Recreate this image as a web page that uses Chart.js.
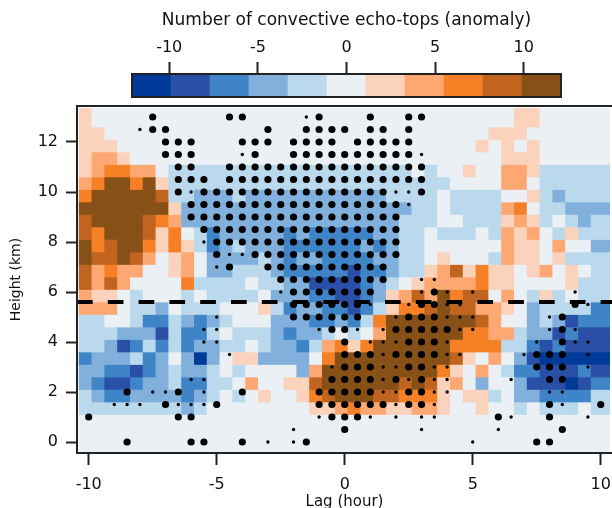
<!DOCTYPE html>
<html>
<head>
<meta charset="utf-8">
<title>Number of convective echo-tops (anomaly)</title>
<script src="https://cdn.jsdelivr.net/npm/chart.js@4/dist/chart.umd.min.js"></script>
<style>
    html, body { margin: 0; padding: 0; background: #fff; overflow: hidden; }
    #wrap { position: relative; width: 612px; height: 508px; }
    canvas { position: absolute; left: 0; top: 0; }
</style>
</head>
<body>
<div id="wrap">
    <canvas id="main-chart" width="612" height="508"></canvas>
    <canvas id="colorbar-chart" width="612" height="105"></canvas>
</div>
<script>
// Colour classes of the anomaly scale, dark blue to dark brown
var classColors = ['#003a99', '#2a4fa6', '#3f84c6', '#82b0dc', '#bbd9ec', '#eaf0f3', '#fbd2bb', '#fda873', '#f58026', '#c1641f', '#875016'];
var classCenters = [-11, -8.8, -6.6, -4.4, -2.2, 0, 2.2, 4.4, 6.6, 8.8, 11];
var classTicks = [-10, -5, 0, 5, 10];

var lagTicks = [-10, -5, 0, 5, 10];
var heightTicks = [0, 2, 4, 6, 8, 10, 12];

// Height of the dashed line (km)
var dashedHeight = 5.6;

// Cells: one string per height row, top row first, one character per lag
// column, holding the index in classColors (A = 10). Spaces are only for reading
var cellRows = [
    '6555555555 5555555555 5555555555 5555665555 55',
    '6555555555 5555555555 5555555555 5555665555 55',
    '6655555555 5555555555 5555555555 5566655555 55',
    '6665555555 5555555555 5555555555 5656565555 55',
    '6776555555 5555555555 5555555555 5556665555 55',
    '6788775444 4444444444 4444445455 6557764444 44',
    '78AA8A6444 4444444444 4444444445 5557754444 44',
    '8AAAAA9443 3343333333 3333444454 4445564344 44',
    'AAAAAAA633 3333333333 3333334454 4447854433 33',
    '9AAAA98733 3333333333 3333344455 4446764543 44',
    '98AAA96854 2333332322 2223344544 4547675464 44',
    'A89AA86864 2343332222 2232344555 5557665755 33',
    'A99A975675 3333432332 2223344565 5547665644 44',
    '9787755675 3344432222 2122344679 6866567565 44',
    '9797555584 4445443311 1123456777 7866555564 44',
    '7665455545 4444533322 11236797A8 9957546454 44',
    '7775443544 4555642332 21246889A9 9776534444 22',
    '4455422432 3455533322 3248AAAAAA A975534312 22',
    '4443331422 4544432334 5457AAAAAA 8877433121 11',
    '4431242423 3445433247 868AAAAAA8 8884421211 11',
    '2333423530 3566333358 AAAAAAAAA9 6575310000 00',
    '3322123433 454555537A AAAAAAAA86 5754221112 11',
    '3211233422 445755669A AAAAA9A967 5355311101 22',
    '4322333323 4545655689 AAA9988865 6645332222 44',
    '4444444434 5555555566 7877667765 5655454445 44',
    '5555555555 5555555555 5555555555 5555555555 55',
    '5555555555 5555555555 5555555555 5555555555 55',
    '5555555555 5555555555 5555555555 5555555555 55'
];

// Significance dots, one entry per height: lags of the large and small dots
var dotHeights = [13, 12.5, 12, 11.5, 11, 10.5, 10, 9.5, 9, 8.5, 8, 7.5, 7, 6.5, 6, 5.5, 5, 4.5, 4, 3.5, 3, 2.5, 2, 1.5, 1, 0.5, 0];
var bigDotLags = [
    [-7.5, -4.5, -4, -1, 1, 2.5, 3],
    [-7.5, -7, -3, -1.5, -1, -0.5, 0, 1, 1.5, 2.5],
    [-7, -6.5, -6, -4, -3.5, -3, -2, -1.5, -1, -0.5, 0.5, 1, 1.5, 2, 2.5],
    [-7, -6.5, -6, -3.5, -2, -1.5, -1, -0.5, 0, 0.5, 1, 1.5, 2, 2.5],
    [-6.5, -6, -4.5, -4, -3.5, -3, -2.5, -2, -1.5, -1, -0.5, 0, 0.5, 1, 1.5, 2, 2.5, 3],
    [-6.5, -6, -5.5, -4.5, -4, -3.5, -3, -2.5, -2, -1.5, -1, -0.5, 0, 0.5, 1, 1.5, 2, 2.5, 3],
    [-6.5, -5.5, -5, -4.5, -4, -3.5, -3, -2.5, -2, -1.5, -1, -0.5, 0, 0.5, 1, 1.5, 3],
    [-6, -5.5, -5, -4.5, -4, -3.5, -3, -2.5, -2, -1.5, -1, -0.5, 0, 0.5, 1, 1.5, 2],
    [-6, -5.5, -5, -4.5, -4, -3.5, -3, -2.5, -2, -1.5, -1, -0.5, 0, 0.5, 1, 1.5, 2],
    [-5.5, -5, -4.5, -4, -3.5, -3, -2.5, -2, -1.5, -1, -0.5, 0, 0.5, 1, 1.5, 2],
    [-5, -4.5, -4, -3.5, -3, -2.5, -2, -1.5, -1, -0.5, 0, 0.5, 1, 1.5, 2],
    [-5, -3.5, -3, -2.5, -2, -1.5, -1, -0.5, 0, 0.5, 1, 1.5, 2],
    [-4.5, -3, -2.5, -2, -1.5, -1, -0.5, 0, 0.5, 1, 1.5],
    [-2.5, -2, -1.5, -1, -0.5, 0, 0.5, 1, 1.5],
    [-2, -1.5, -1, -0.5, 0, 0.5, 1, 3.5],
    [-2, -1.5, -1, -0.5, 0, 0.5, 3, 3.5, 9],
    [-2, -1.5, -1, -0.5, 0, 0.5, 2.5, 3, 3.5, 8.5],
    [-0.5, 0, 2, 2.5, 3, 3.5, 4, 8.5],
    [0, 2.5, 3, 3.5, 8.5],
    [0, 0.5, 1, 2, 2.5, 3, 3.5, 7.5, 8, 8.5],
    [0, 0.5, 1, 2.5, 3, 7.5, 8, 8.5],
    [-0.5, 0, 0.5, 1, 2, 3, 8, 8.5],
    [-8.5, -6.5, -4, -1, -0.5, 0, 0.5, 1, 2.5, 3],
    [-7, -5, -1, -0.5, 0, 0.5, 1, 1.5, 2.5, 3, 8, 10],
    [-10, -6.5, -6, -0.5, 0, 0.5, 6, 8],
    [0, 8.5],
    [-8.5, -6, -5.5, -4, -1.5, 7.5, 8]
];
var smallDotLags = [
    [-1.5],
    [-8],
    [],
    [-4, 3],
    [],
    [],
    [-6, 2, 2.5],
    [2.5],
    [],
    [],
    [-5.5],
    [-4.5, -4],
    [-5],
    [3, 3.5],
    [-2.5, 3, 4, 5, 9],
    [1, 2.5, 4, 4.5, 9.5],
    [-5, 2, 4, 4.5, 5, 8],
    [-5.5, -5, -1, 0.5, 1.5, 4.5, 5, 8, 9],
    [-5.5, -5, 1, 1.5, 2, 4, 7.5, 9, 9.5],
    [-4.5, 1.5, 4, 4.5, 7, 9.5],
    [-0.5, 1.5, 2, 3.5, 4, 9.5],
    [-6, -5.5, 1.5, 2.5, 3.5, 4, 6.5],
    [-7.5, -7, -5.5, 1.5, 2, 3.5, 4, 8, 8.5],
    [-9, -8.5, -8, -6.5, -6, -5.5, 2, 3.5, 8.5],
    [-1, 1, 2, 3, 3.5, 6.5, 9.5],
    [-2, 3, 6],
    [-3, -2, 5]
];

// Scale limits of the main panel
var lagMin = -10.457;
var lagMax = 10.44;
var heightMin = -0.44;
var heightMax = 13.44;
var firstCellLag = -10.125;
var firstCellHeight = -0.4;
var cellStep = 0.5;

var axisColor = '#222222';
var textColor = '#111111';
var fontFamily = '"DejaVu Sans", sans-serif';

/**
 * Draw chart frame lines (the main panel has no right side)
 */
var framePlugin = {
    id: 'frameLines',
    afterDatasetsDraw: function(chart, args, opts) {
        var area = chart.chartArea;
        var ctx = chart.ctx;
        ctx.save();
        ctx.strokeStyle = axisColor;
        ctx.lineWidth = 2;
        ctx.beginPath();
        ctx.moveTo(area.left, area.top);
        ctx.lineTo(area.right, area.top);
        ctx.moveTo(area.left, area.top - 1);
        ctx.lineTo(area.left, area.bottom + 1);
        ctx.moveTo(area.left, area.bottom);
        ctx.lineTo(area.right, area.bottom);
        if (opts.right) {
            ctx.moveTo(area.right, area.top - 1);
            ctx.lineTo(area.right, area.bottom + 1);
        }
        ctx.stroke();
        ctx.restore();
    }
};

/**
 * Build one floating bar dataset per height row
 */
function buildCellDatasets() {
    var datasets = [];
    cellRows.forEach(function(row, rowIndex) {
        var low = firstCellHeight + cellStep * (cellRows.length - 1 - rowIndex);
        var points = [];
        var colors = [];
        row.replace(/ /g, '').split('').forEach(function(ch, col) {
            points.push({ x: firstCellLag + cellStep * col, y: [low, low + cellStep] });
            colors.push(classColors[parseInt(ch, 16)]);
        });
        datasets.push({
            type: 'bar',
            data: points,
            backgroundColor: colors,
            borderWidth: 0,
            grouped: false,
            barPercentage: 1,
            categoryPercentage: 1,
            clip: { left: 0, top: -2, right: -2, bottom: 0 },
            order: 3
        });
    });
    return datasets;
}

/**
 * Build a point list from per-height lists of lags
 */
function buildDotPoints(lagLists) {
    var points = [];
    lagLists.forEach(function(lags, i) {
        lags.forEach(function(lag) {
            points.push({ x: lag, y: dotHeights[i] });
        });
    });
    return points;
}

function tickObjects(values) {
    return values.map(function(v) { return { value: v }; });
}

// Stop edge tick labels from shrinking the plot area
function fixAxisSize(scale, width, height) {
    if (width) scale.width = width;
    if (height) scale.height = height;
    scale.paddingLeft = 0;
    scale.paddingRight = 0;
    scale.paddingTop = 0;
    scale.paddingBottom = 0;
}

function initMainChart() {
    var ctx = document.getElementById('main-chart').getContext('2d');
    var datasets = buildCellDatasets();
    datasets.push({
        type: 'scatter',
        data: buildDotPoints(bigDotLags),
        backgroundColor: '#000',
        pointRadius: 3.6,
        pointBorderWidth: 0,
        order: 2
    });
    datasets.push({
        type: 'scatter',
        data: buildDotPoints(smallDotLags),
        backgroundColor: '#000',
        pointRadius: 1.7,
        pointBorderWidth: 0,
        order: 2
    });
    datasets.push({
        type: 'line',
        data: [{ x: lagMin, y: dashedHeight }, { x: lagMax, y: dashedHeight }],
        borderColor: '#000',
        borderWidth: 4,
        borderDash: [15.7, 15.1],
        pointRadius: 0,
        fill: false,
        order: 1
    });

    new Chart(ctx, {
        type: 'scatter',
        data: { datasets: datasets },
        options: {
            responsive: false,
            animation: false,
            events: [],
            layout: { autoPadding: false, padding: { top: 106, left: 0, right: 0, bottom: 0 } },
            plugins: { legend: { display: false }, tooltip: { enabled: false }, frameLines: { right: false } },
            scales: {
                x: {
                    type: 'linear',
                    min: lagMin,
                    max: lagMax,
                    offset: false,
                    afterBuildTicks: function(scale) { scale.ticks = tickObjects(lagTicks); },
                    afterFit: function(scale) { fixAxisSize(scale, 0, 55); },
                    border: { display: false },
                    grid: { offset: false, drawOnChartArea: false, tickLength: 12, tickColor: axisColor, tickWidth: 2 },
                    ticks: {
                        autoSkip: false,
                        maxRotation: 0,
                        padding: 10,
                        color: textColor,
                        font: { family: fontFamily, size: 16 },
                        callback: function(v) { return String(v); }
                    },
                    title: {
                        display: true,
                        text: 'Lag (hour)',
                        color: textColor,
                        font: { family: fontFamily, size: 15 },
                        padding: { top: 0, bottom: -3 }
                    }
                },
                y: {
                    type: 'linear',
                    min: heightMin,
                    max: heightMax,
                    afterBuildTicks: function(scale) { scale.ticks = tickObjects(heightTicks); },
                    afterFit: function(scale) { fixAxisSize(scale, 77, 0); },
                    border: { display: false },
                    grid: { drawOnChartArea: false, tickLength: 11, tickColor: axisColor, tickWidth: 2 },
                    ticks: {
                        autoSkip: false,
                        padding: 8,
                        color: textColor,
                        font: { family: fontFamily, size: 16 },
                        callback: function(v) { return String(v); }
                    },
                    title: {
                        display: true,
                        text: 'Height (km)',
                        color: textColor,
                        font: { family: fontFamily, size: 14 },
                        padding: { top: 8, bottom: 0 }
                    }
                }
            }
        },
        plugins: [framePlugin]
    });
}

function initColorbarChart() {
    var ctx = document.getElementById('colorbar-chart').getContext('2d');
    var points = classCenters.map(function(c) { return { x: c, y: [0, 1] }; });

    new Chart(ctx, {
        type: 'bar',
        data: {
            datasets: [{
                data: points,
                backgroundColor: classColors,
                borderWidth: 0,
                barPercentage: 1,
                categoryPercentage: 1
            }]
        },
        options: {
            responsive: false,
            animation: false,
            events: [],
            layout: { autoPadding: false, padding: { top: 0, left: 132, right: 51, bottom: 8 } },
            plugins: { legend: { display: false }, tooltip: { enabled: false }, frameLines: { right: true } },
            scales: {
                x: {
                    type: 'linear',
                    position: 'top',
                    min: -12.1,
                    max: 12.1,
                    offset: false,
                    afterBuildTicks: function(scale) { scale.ticks = tickObjects(classTicks); },
                    afterFit: function(scale) { fixAxisSize(scale, 0, 74); },
                    border: { display: false },
                    grid: { offset: false, drawOnChartArea: false, tickLength: 12, tickColor: axisColor, tickWidth: 2 },
                    ticks: {
                        autoSkip: false,
                        maxRotation: 0,
                        padding: 5,
                        color: textColor,
                        font: { family: fontFamily, size: 16 },
                        callback: function(v) { return String(v); }
                    },
                    title: {
                        display: true,
                        text: 'Number of convective echo-tops (anomaly)',
                        color: textColor,
                        font: { family: fontFamily, size: 17 },
                        padding: { top: 10, bottom: 0 }
                    }
                },
                y: {
                    type: 'linear',
                    display: false,
                    min: 0,
                    max: 1
                }
            }
        },
        plugins: [framePlugin]
    });
}

initMainChart();
initColorbarChart();
</script>
</body>
</html>
